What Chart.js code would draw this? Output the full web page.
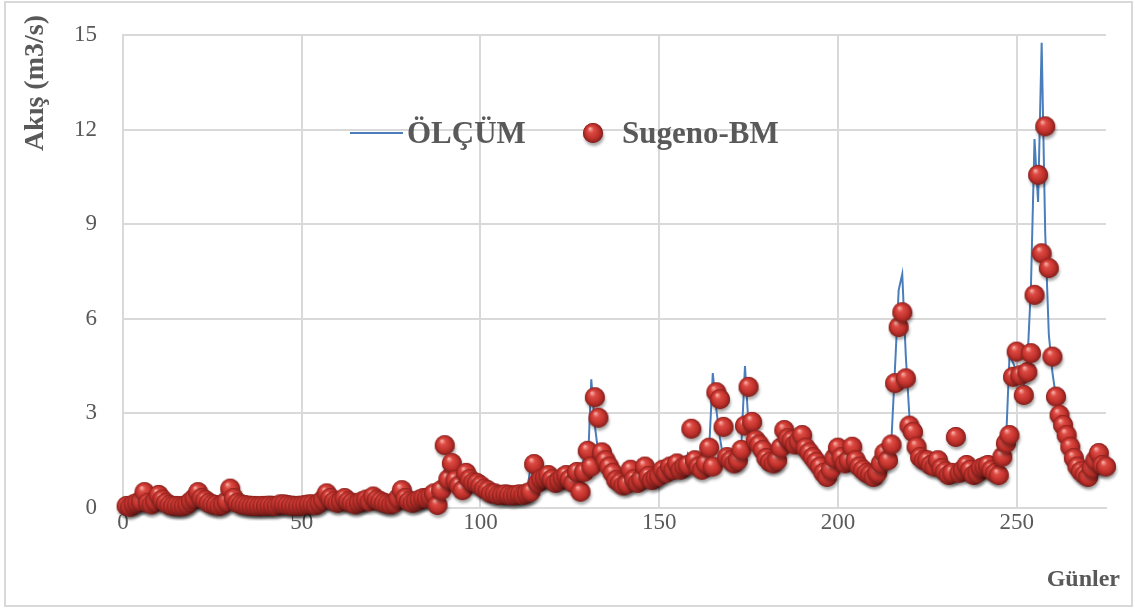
<!DOCTYPE html>
<html>
<head>
<meta charset="utf-8">
<script src="https://cdn.jsdelivr.net/npm/chart.js@4.4.1/dist/chart.umd.min.js"></script>
<style>
  html, body { margin: 0; padding: 0; background: #fff; }
  canvas { display: block; }
</style>
</head>
<body>
<canvas id="flowChart" width="1135" height="608"></canvas>
<script>
// Günlük akış: ölçülen (çizgi) ve Sugeno-BM tahmini (küreler), gün 1..275
const measured = [
  0.05,0.05,0.1,0.2,0.4,0.2,0.1,0.15,0.3,0.2,
  0.1,0.08,0.05,0.05,0.04,0.04,0.06,0.15,0.25,0.4,
  0.25,0.2,0.12,0.1,0.07,0.05,0.08,0.15,0.5,0.25,
  0.12,0.1,0.07,0.06,0.05,0.05,0.04,0.05,0.05,0.05,
  0.05,0.05,0.08,0.1,0.08,0.06,0.05,0.05,0.06,0.07,
  0.1,0.1,0.08,0.12,0.2,0.4,0.25,0.18,0.14,0.18,
  0.28,0.2,0.14,0.1,0.13,0.18,0.22,0.18,0.3,0.22,
  0.18,0.14,0.12,0.1,0.13,0.25,0.5,0.28,0.18,0.14,
  0.18,0.22,0.28,0.28,0.32,0.4,0.1,0.3,0.6,1.2,
  1.0,0.85,0.7,0.6,1.0,0.85,0.75,0.72,0.65,0.6,
  0.55,0.5,0.45,0.43,0.42,0.4,0.4,0.4,0.4,0.4,
  0.4,0.42,0.45,1.3,0.8,0.85,0.9,1.0,0.9,0.8,
  0.8,0.9,1.0,0.9,0.8,1.1,0.55,1.1,1.6,1.2,
  4.07,2.6,1.7,1.45,1.25,1.1,0.9,0.8,0.7,0.7,
  1.15,0.85,0.8,0.85,1.25,0.95,0.85,0.9,0.95,1.15,
  1.05,1.25,1.15,1.35,1.2,1.3,1.3,1.7,1.45,1.3,
  1.15,1.35,1.6,1.9,4.27,3.1,2.2,1.55,1.45,1.35,
  1.7,1.8,2.0,4.49,2.6,2.1,2.0,1.8,1.55,1.45,
  1.35,1.45,1.85,2.4,2.15,2.1,1.95,2.05,2.25,1.85,
  1.7,1.55,1.4,1.25,1.05,0.95,1.15,1.5,1.85,1.55,
  1.35,1.45,1.9,1.45,1.25,1.15,1.05,1.0,0.95,1.05,
  1.35,1.7,1.45,1.95,2.2,4.5,6.9,7.41,4.8,2.9,
  2.4,1.9,1.6,1.45,1.4,1.35,1.45,1.3,1.2,1.1,
  1.05,1.2,1.3,1.15,1.25,1.3,1.15,1.05,1.15,1.25,
  1.3,1.3,1.15,1.05,1.15,1.6,2.0,4.8,4.6,4.3,
  4.1,3.9,4.6,7.0,11.7,9.7,14.75,8.7,5.5,4.3,
  3.5,2.9,2.5,2.2,1.9,1.55,1.3,1.1,1.0,0.95,
  1.2,1.6,1.45,1.3,1.2
];

const predicted = [
  0.05,0.02,0.1,0.15,0.2,0.49,0.15,0.1,0.2,0.4,
  0.25,0.15,0.08,0.05,0.05,0.04,0.05,0.1,0.2,0.3,
  0.49,0.3,0.24,0.15,0.1,0.08,0.05,0.1,0.2,0.6,
  0.3,0.15,0.1,0.08,0.06,0.05,0.05,0.04,0.05,0.05,
  0.06,0.05,0.05,0.1,0.1,0.08,0.06,0.05,0.05,0.06,
  0.08,0.1,0.1,0.08,0.15,0.25,0.45,0.3,0.2,0.15,
  0.2,0.3,0.2,0.15,0.1,0.15,0.2,0.25,0.2,0.35,
  0.25,0.2,0.15,0.12,0.1,0.15,0.3,0.55,0.3,0.2,
  0.15,0.2,0.25,0.3,0.3,0.35,0.45,0.08,0.55,1.98,
  0.9,1.41,0.87,0.7,0.55,1.1,0.9,0.8,0.78,0.7,
  0.6,0.55,0.45,0.45,0.4,0.4,0.42,0.4,0.38,0.4,
  0.42,0.4,0.45,0.5,1.38,0.78,0.9,0.95,1.03,0.9,
  0.78,0.85,0.95,1.03,0.9,0.78,1.13,0.5,1.13,1.8,
  1.3,3.5,2.85,1.75,1.5,1.3,1.1,0.87,0.8,0.7,
  0.75,1.2,0.9,0.78,0.9,1.3,1.0,0.87,0.95,1.0,
  1.2,1.1,1.3,1.2,1.4,1.2,1.3,1.35,2.5,1.5,
  1.3,1.2,1.4,1.9,1.3,3.66,3.44,2.56,1.6,1.5,
  1.4,1.5,1.83,2.6,3.83,2.72,2.14,2.0,1.83,1.57,
  1.45,1.4,1.5,1.9,2.46,2.2,2.14,2.0,2.1,2.3,
  1.9,1.75,1.6,1.45,1.3,1.1,0.97,1.2,1.57,1.9,
  1.6,1.4,1.5,1.93,1.5,1.3,1.2,1.1,1.05,0.97,
  1.1,1.4,1.73,1.5,2.0,3.95,5.73,6.2,4.1,2.6,
  2.4,1.93,1.6,1.5,1.5,1.35,1.3,1.5,1.25,1.15,
  1.03,1.1,2.24,1.1,1.2,1.35,1.2,1.03,1.1,1.25,
  1.3,1.35,1.2,1.1,1.03,1.61,2.04,2.3,4.15,4.95,
  4.2,3.57,4.3,4.9,6.75,10.56,8.07,12.1,7.6,4.79,
  3.52,2.94,2.62,2.3,1.93,1.57,1.3,1.15,1.05,0.97,
  1.25,1.5,1.73,1.35,1.3
];

const seriesNames = ['ÖLÇÜM', 'Sugeno-BM'];
const xTitle = 'Günler';
const yTitle = 'Akış (m3/s)';

const TEXT = '#595959';
const GRID = '#d9d9d9';
const LINE_BLUE = '#4a7ebb';
const SERIF = "'Liberation Serif', 'Times New Roman', serif";

// shaded red sphere used as point style (and in the legend)
function makeBall(r) {
  const size = 2 * r + 10;
  const c = document.createElement('canvas');
  c.width = size; c.height = size;
  const g = c.getContext('2d');
  const m = size / 2;
  g.shadowColor = 'rgba(0,0,0,0.35)';
  g.shadowBlur = 3;
  g.shadowOffsetX = 1;
  g.shadowOffsetY = 3;
  g.beginPath();
  g.arc(m, m, r, 0, Math.PI * 2);
  g.fillStyle = '#9c2522';
  g.fill();
  g.shadowColor = 'transparent';
  const rg = g.createRadialGradient(m - r * 0.3, m - r * 0.45, r * 0.05, m, m, r);
  rg.addColorStop(0, '#f6aaa2');
  rg.addColorStop(0.28, '#dc4a42');
  rg.addColorStop(0.7, '#c0302b');
  rg.addColorStop(1, '#80201c');
  g.beginPath();
  g.arc(m, m, r, 0, Math.PI * 2);
  g.fillStyle = rg;
  g.fill();
  return c;
}
const ball = makeBall(10);

const toPoints = (arr) => arr.map((v, i) => ({ x: i + 1, y: v }));

// frame, axis titles and the legend inside the plot
const decorations = {
  id: 'decorations',
  beforeDraw(chart) {
    const ctx = chart.ctx;
    ctx.save();
    ctx.fillStyle = '#fff';
    ctx.fillRect(0, 0, chart.width, chart.height);
    ctx.strokeStyle = GRID;
    ctx.lineWidth = 2;
    ctx.strokeRect(5, 2, chart.width - 8, chart.height - 4);
    ctx.restore();
  },
  afterDraw(chart) {
    const ctx = chart.ctx;
    const area = chart.chartArea;
    ctx.save();
    ctx.fillStyle = TEXT;

    // y title, reads upward, ends above the top gridline
    ctx.font = 'bold 28px ' + SERIF;
    ctx.translate(43, area.top - 20);
    ctx.rotate(-Math.PI / 2);
    ctx.textAlign = 'right';
    ctx.textBaseline = 'alphabetic';
    ctx.fillText(yTitle, 0, 0);
    ctx.setTransform(1, 0, 0, 1, 0, 0);

    // x title, bottom right
    ctx.font = 'bold 24px ' + SERIF;
    ctx.textAlign = 'right';
    ctx.fillText(xTitle, area.right + 14, 586);

    // legend
    const ly = 133;
    ctx.strokeStyle = LINE_BLUE;
    ctx.lineWidth = 2;
    ctx.beginPath();
    ctx.moveTo(350, ly);
    ctx.lineTo(403, ly);
    ctx.stroke();
    ctx.font = 'bold 31px ' + SERIF;
    ctx.textAlign = 'left';
    ctx.fillText(seriesNames[0], 407, ly + 10);
    ctx.drawImage(ball, 593 - ball.width / 2, ly - ball.height / 2);
    ctx.fillText(seriesNames[1], 622, ly + 10);
    ctx.restore();
  }
};

new Chart(document.getElementById('flowChart'), {
  data: {
    datasets: [
      {
        type: 'scatter',
        label: seriesNames[1],
        data: toPoints(predicted),
        pointStyle: ball,
        pointRadius: 10,
        clip: false,
        order: 0,
      },
      {
        type: 'line',
        label: seriesNames[0],
        data: toPoints(measured),
        borderColor: LINE_BLUE,
        borderWidth: 2,
        pointRadius: 0,
        tension: 0,
        fill: false,
        order: 1,
      },
    ],
  },
  options: {
    responsive: false,
    animation: false,
    events: [],
    layout: { padding: { left: 0, top: 35, right: 29, bottom: 0 } },
    plugins: {
      legend: { display: false },
      tooltip: { enabled: false },
    },
    scales: {
      x: {
        type: 'linear',
        min: 0,
        max: 275,
        afterBuildTicks: (s) => { s.ticks = s.ticks.filter((t) => t.value % 50 === 0); },
        afterFit: (s) => { s.height = 100.5; s.paddingLeft = 0; s.paddingRight = 0; },
        ticks: { stepSize: 50, color: TEXT, padding: 2, font: { family: SERIF, size: 23 } },
        grid: { color: GRID, lineWidth: 2, drawTicks: false },
        border: { color: GRID, width: 2 },
      },
      y: {
        min: 0,
        max: 15,
        afterFit: (s) => { s.width = 123; s.paddingTop = 0; s.paddingBottom = 0; },
        ticks: { stepSize: 3, color: TEXT, padding: 26, font: { family: SERIF, size: 23 } },
        grid: { color: GRID, lineWidth: 2, drawTicks: false },
        border: { color: GRID, width: 2 },
      },
    },
  },
  plugins: [decorations],
});
</script>
</body>
</html>
